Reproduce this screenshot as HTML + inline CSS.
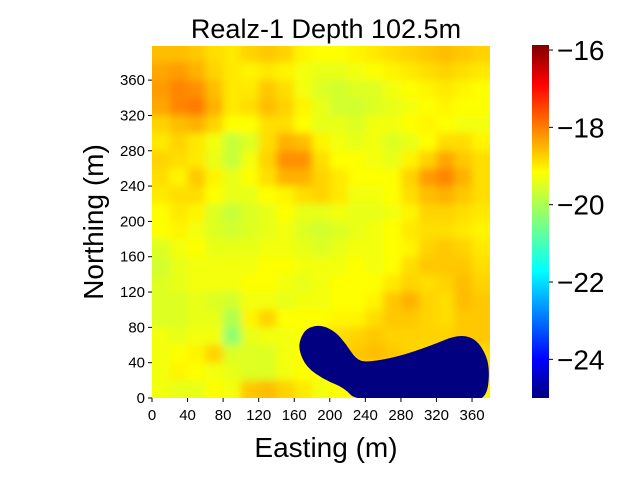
<!DOCTYPE html>
<html><head><meta charset="utf-8"><style>
body{margin:0;background:#fff;width:640px;height:480px;overflow:hidden}
text{font-family:"Liberation Sans","DejaVu Sans",sans-serif}
</style></head><body>
<svg id="chart" width="640" height="480" xmlns="http://www.w3.org/2000/svg">
<defs>
<filter id="blur" x="-5%" y="-5%" width="110%" height="110%"><feGaussianBlur stdDeviation="4"/></filter>
<clipPath id="plotclip"><rect x="152" y="46" width="338" height="352"/></clipPath>
<linearGradient id="jet" x1="0" y1="1" x2="0" y2="0">
<stop offset="0" stop-color="#00007f"/><stop offset="0.11" stop-color="#0000ff"/><stop offset="0.36" stop-color="#00ffff"/><stop offset="0.5" stop-color="#7fff7f"/><stop offset="0.64" stop-color="#ffff00"/><stop offset="0.89" stop-color="#ff0000"/><stop offset="1" stop-color="#7f0000"/>
</linearGradient>
</defs>
<g id="cells" clip-path="url(#plotclip)"><g id="cellsinner" filter="url(#blur)"></g></g>
<g id="blob" clip-path="url(#plotclip)"></g>
<g id="axes"></g>
<text x="326" y="38" font-size="27" text-anchor="middle">Realz-1 Depth 102.5m</text>
<text x="326" y="457" font-size="28" text-anchor="middle">Easting (m)</text>
<text transform="translate(103,222) rotate(-90)" font-size="28" text-anchor="middle">Northing (m)</text>
<rect x="532" y="45" width="17" height="353" fill="url(#jet)"/>
<g id="cbar"></g>
</svg>
<script>
const xCells=[0,20,40,60,80,100,120,140,160,180,200,220,240,260,280,300,320,340,360];
const yCells=[380,360,340,320,300,280,260,240,220,200,180,160,140,120,100,80,60,40,20,0];
const gridValues=[
[-18.7,-18.7,-18.8,-19.0,-19.1,-18.9,-18.8,-18.9,-19.2,-19.3,-19.3,-19.2,-19.1,-19.0,-18.9,-18.8,-18.7,-18.8,-18.9],
[-18.5,-18.4,-18.6,-18.9,-19.1,-19.2,-19.1,-19.2,-19.4,-19.5,-19.5,-19.4,-19.3,-19.2,-19.1,-19.0,-18.9,-19.0,-19.1],
[-18.4,-18.2,-18.3,-18.7,-19.1,-19.1,-18.8,-19.0,-19.4,-19.6,-19.7,-19.6,-19.6,-19.4,-19.3,-19.2,-19.1,-19.2,-19.3],
[-18.5,-18.2,-18.1,-18.6,-19.1,-19.0,-18.7,-18.9,-19.2,-19.5,-19.7,-19.7,-19.6,-19.5,-19.4,-19.3,-19.2,-19.3,-19.3],
[-18.9,-18.7,-18.6,-18.9,-19.3,-19.3,-19.0,-19.0,-19.3,-19.5,-19.5,-19.6,-19.4,-19.4,-19.3,-19.2,-19.3,-19.4,-19.4],
[-19.1,-18.9,-19.1,-19.4,-19.8,-19.6,-19.0,-18.6,-18.7,-19.2,-19.4,-19.5,-19.4,-19.6,-19.5,-19.3,-19.0,-19.0,-19.2],
[-18.9,-19.0,-19.1,-19.5,-19.8,-19.4,-18.9,-18.3,-18.3,-19.0,-19.3,-19.3,-19.4,-19.5,-19.2,-18.9,-18.5,-18.8,-19.0],
[-19.0,-19.2,-18.8,-19.2,-19.5,-19.3,-19.0,-18.6,-18.6,-18.9,-19.1,-19.3,-19.3,-19.3,-18.9,-18.4,-18.2,-18.6,-19.0],
[-19.1,-19.0,-19.0,-19.3,-19.5,-19.5,-19.3,-19.2,-19.0,-18.9,-19.1,-19.4,-19.4,-19.3,-19.0,-18.7,-18.6,-18.8,-19.0],
[-19.3,-19.1,-19.2,-19.6,-19.8,-19.6,-19.5,-19.3,-19.5,-19.5,-19.4,-19.5,-19.5,-19.4,-19.2,-18.9,-18.9,-19.0,-19.1],
[-19.3,-19.2,-19.4,-19.6,-19.7,-19.6,-19.5,-19.4,-19.6,-19.7,-19.6,-19.5,-19.4,-19.3,-19.1,-19.0,-19.0,-19.1,-19.2],
[-19.6,-19.4,-19.3,-19.5,-19.5,-19.5,-19.4,-19.4,-19.5,-19.6,-19.5,-19.4,-19.4,-19.3,-19.2,-18.9,-18.8,-18.9,-19.1],
[-19.7,-19.5,-19.4,-19.4,-19.4,-19.4,-19.3,-19.3,-19.4,-19.4,-19.4,-19.3,-19.4,-19.3,-19.0,-18.8,-18.8,-18.8,-19.0],
[-19.6,-19.5,-19.4,-19.4,-19.4,-19.3,-19.3,-19.4,-19.5,-19.4,-19.3,-19.3,-19.3,-19.1,-18.9,-19.0,-18.9,-18.7,-18.9],
[-19.6,-19.6,-19.5,-19.6,-19.7,-19.4,-19.4,-19.5,-19.4,-19.4,-19.3,-19.3,-19.2,-18.8,-18.6,-18.9,-19.0,-18.7,-18.8],
[-19.6,-19.6,-19.5,-19.5,-20.0,-19.2,-18.9,-19.3,-19.3,-19.3,-19.2,-19.2,-19.0,-18.8,-18.8,-18.9,-19.0,-18.8,-18.8],
[-19.4,-19.5,-19.4,-19.4,-20.3,-19.5,-19.4,-19.4,-19.3,-19.1,-19.0,-18.9,-18.8,-18.9,-18.9,-18.9,-18.9,-18.8,-18.8],
[-19.4,-19.3,-19.2,-18.9,-19.6,-19.6,-19.6,-19.4,-19.3,-19.3,-19.0,-18.8,-18.7,-18.8,-18.9,-19.0,-19.0,-19.0,-19.0],
[-19.4,-19.2,-19.3,-19.4,-19.5,-19.6,-19.6,-19.4,-19.3,-19.3,-19.2,-19.1,-19.1,-19.1,-19.1,-19.1,-19.1,-19.1,-19.1],
[-19.4,-19.5,-19.5,-19.3,-19.4,-18.8,-18.7,-18.9,-19.1,-19.4,-19.3,-19.3,-19.3,-19.3,-19.3,-19.3,-19.3,-19.3,-19.2]
];
const blobX=[168,175,190,205,217,228,241,277,315,344,363,375,378,375,360,232,217,195,175,167];
const blobY=[66,78,81,74,60,43,38.5,45,58,70,66,47,28,3,-3,-3,13,22,36,54];
const blobValue=-25;
const xTicks=[0,40,80,120,160,200,240,280,320,360];
const yTicks=[0,40,80,120,160,200,240,280,320,360];
const cbarTicks=[-16,-18,-20,-22,-24];
const vmin=-25, vmax=-15.87, cellSize=20;

const X0=152, XS=0.889, Y0=398, YS=0.883;
const sx=m=>X0+m*XS, sy=m=>Y0-m*YS;
const cy=v=>398-(v-vmin)/(vmax-vmin)*353;
function jet(v){
  let t=(v-vmin)/(vmax-vmin); t=Math.max(0,Math.min(1,t));
  const c=x=>Math.round(255*Math.max(0,Math.min(1,x)));
  const r=c(Math.min(4*t-1.5,-4*t+4.5)), g=c(Math.min(4*t-0.5,-4*t+3.5)), b=c(Math.min(4*t+0.5,-4*t+2.5));
  return `rgb(${r},${g},${b})`;
}
const NS="http://www.w3.org/2000/svg";
function mk(tag,attrs,parent){const e=document.createElementNS(NS,tag);for(const k in attrs)e.setAttribute(k,attrs[k]);parent.appendChild(e);return e;}
const cells=document.getElementById('cellsinner');
yCells.forEach((yv,i)=>xCells.forEach((xv,j)=>{
  const ex=j===0?-10:0, ey=i===0?10:0, ex2=j===xCells.length-1?10:0, ey2=i===yCells.length-1?10:0;
  const r=mk('rect',{x:sx(xv+ex),y:sy(yv+cellSize+ey),width:(cellSize-ex+ex2)*XS+0.6,height:(cellSize+ey+ey2)*YS+0.6,fill:jet(gridValues[i][j])},cells);
  
  
}));
// smooth closed path through blob points (midpoint quadratic)
const P=blobX.map((x,i)=>[sx(x),sy(blobY[i])]);
const n=P.length, mid=(a,b)=>[(a[0]+b[0])/2,(a[1]+b[1])/2];
let m0=mid(P[n-1],P[0]);
let d=`M${m0[0]},${m0[1]}`;
for(let i=0;i<n;i++){const m=mid(P[i],P[(i+1)%n]);d+=` Q${P[i][0]},${P[i][1]} ${m[0]},${m[1]}`;}
d+='Z';
const bp=mk('path',{d:d,fill:jet(blobValue),stroke:jet(blobValue),'stroke-width':3},document.getElementById('blob'));


const ax=document.getElementById('axes');
xTicks.forEach(t=>{
  mk('line',{x1:sx(t),x2:sx(t),y1:398,y2:402,stroke:'#000','stroke-width':1},ax);
  const tx=mk('text',{x:sx(t),y:420,'font-size':15,'text-anchor':'middle'},ax);tx.textContent=t;
  
  
});
yTicks.forEach(t=>{
  mk('line',{x1:148,x2:152,y1:sy(t),y2:sy(t),stroke:'#000','stroke-width':1},ax);
  const tx=mk('text',{x:145,y:sy(t)+5,'font-size':15,'text-anchor':'end'},ax);tx.textContent=t;
  
  
});
const cb=document.getElementById('cbar');
cbarTicks.forEach(t=>{
  mk('line',{x1:549,x2:553,y1:cy(t),y2:cy(t),stroke:'#000','stroke-width':1},cb);
  const tx=mk('text',{x:557,y:cy(t)+10,'font-size':28},cb);tx.textContent='\u2212'+Math.abs(t);
  
  
});
</script>
</body></html>
